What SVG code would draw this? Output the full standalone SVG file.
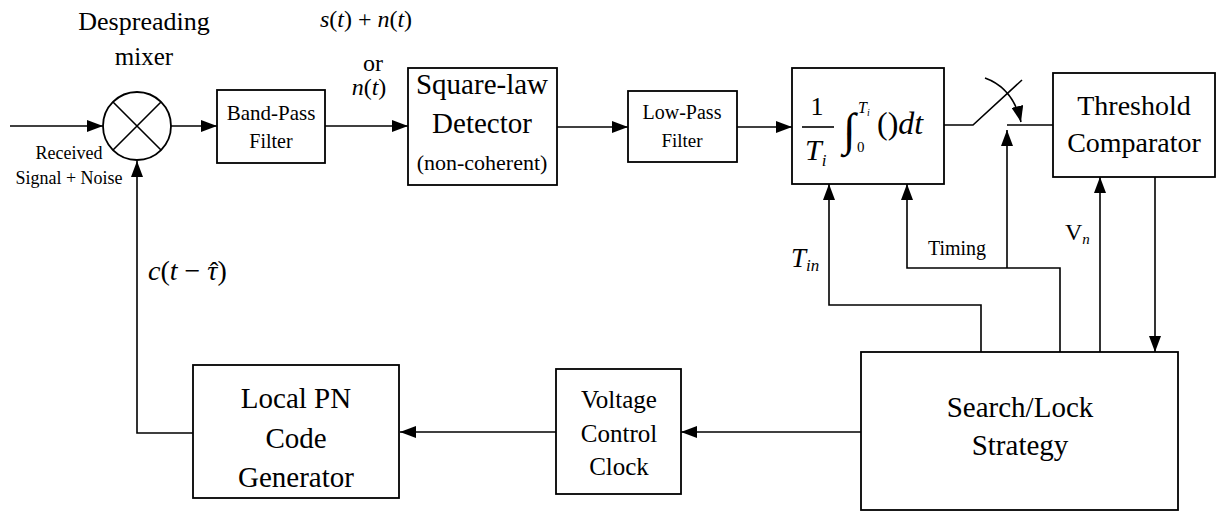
<svg xmlns="http://www.w3.org/2000/svg" width="1220" height="512" viewBox="0 0 1220 512">
<defs>
<marker id="ah" viewBox="0 0 16 12" refX="16" refY="6" markerWidth="16" markerHeight="12" orient="auto" markerUnits="userSpaceOnUse"><path d="M0,0 L16,6 L0,12 z" fill="#000"/></marker>
</defs>
<style>
.box{fill:#fff;stroke:#000;stroke-width:1.8}
.ln{fill:none;stroke:#000;stroke-width:1.6}
.ar{fill:none;stroke:#000;stroke-width:1.6;marker-end:url(#ah)}
.t{font-family:'Liberation Serif','DejaVu Serif',serif;fill:#000}
.c{text-anchor:middle}
.i{font-style:italic}
</style>
<rect width="1220" height="512" fill="#fff"/>
<g id="connectors">
<path class="ar" d="M10,126 H103"/>
<path class="ar" d="M171,126 H217"/>
<path class="ar" d="M325,126 H408"/>
<path class="ar" d="M557,127 H628"/>
<path class="ar" d="M737,127 H792"/>
<path class="ln" d="M944,125 H973 L1022,80"/>
<path class="ar" d="M985,78 Q1013,88 1021,122"/>
<path class="ln" d="M1007,125 H1053"/>
<path class="ar" d="M981,352 V305 H829 V184"/>
<path class="ar" d="M1060,352 V268 H907 V184"/>
<path class="ar" d="M1007,268 V130"/>
<path class="ar" d="M1100,352 V177"/>
<path class="ar" d="M1155,177 V352"/>
<path class="ar" d="M861,432 H681"/>
<path class="ar" d="M556,432 H400"/>
<path class="ar" d="M193,433 H137 V161"/>
</g>
<g id="mixer">
<circle cx="137" cy="126" r="34" fill="#fff" stroke="#000" stroke-width="1.8"/>
<path class="ln" d="M113,102 L161,150 M161,102 L113,150"/>
</g>
<g id="bpf">
<rect class="box" x="217" y="90" width="108" height="73"/>
<text class="t c" x="271" y="120" font-size="21">Band-Pass</text>
<text class="t c" x="271" y="148" font-size="20">Filter</text>
</g>
<g id="sqlaw">
<rect class="box" x="408" y="68" width="149" height="117"/>
<text class="t c" x="482" y="94" font-size="29">Square-law</text>
<text class="t c" x="482" y="133" font-size="29">Detector</text>
<text class="t c" x="482" y="170" font-size="22">(non-coherent)</text>
</g>
<g id="lpf">
<rect class="box" x="628" y="91" width="109" height="71"/>
<text class="t c" x="682" y="119" font-size="20">Low-Pass</text>
<text class="t c" x="682" y="147" font-size="19">Filter</text>
</g>
<g id="integrator">
<rect class="box" x="792" y="68" width="152" height="116"/>
<text class="t c" x="817" y="115" font-size="26">1</text>
<path class="ln" d="M802,127 H834"/>
<text class="t i" x="805" y="160" font-size="30">T<tspan font-size="17" dy="6">i</tspan></text>
<text class="t" x="843" y="145" font-size="46">∫</text>
<text class="t i" x="858" y="113" font-size="16">T<tspan font-size="10" dy="3">i</tspan></text>
<text class="t" x="857" y="152" font-size="15">0</text>
<text class="t" x="877" y="134" font-size="32">()<tspan class="i">dt</tspan></text>
</g>
<g id="threshold">
<rect class="box" x="1053" y="73" width="162" height="104"/>
<text class="t c" x="1134" y="115" font-size="28">Threshold</text>
<text class="t c" x="1134" y="152" font-size="28">Comparator</text>
</g>
<g id="search">
<rect class="box" x="861" y="352" width="317" height="158"/>
<text class="t c" x="1020" y="417" font-size="29">Search/Lock</text>
<text class="t c" x="1020" y="455" font-size="29">Strategy</text>
</g>
<g id="vcc">
<rect class="box" x="556" y="369" width="125" height="125"/>
<text class="t c" x="619" y="408" font-size="25">Voltage</text>
<text class="t c" x="619" y="442" font-size="25">Control</text>
<text class="t c" x="619" y="475" font-size="25">Clock</text>
</g>
<g id="pngen">
<rect class="box" x="193" y="365" width="206" height="133"/>
<text class="t c" x="296" y="408" font-size="29">Local PN</text>
<text class="t c" x="296" y="448" font-size="29">Code</text>
<text class="t c" x="296" y="487" font-size="29">Generator</text>
</g>
<g id="labels">
<text class="t c" x="144" y="30" font-size="26">Despreading</text>
<text class="t c" x="144" y="65" font-size="25">mixer</text>
<text class="t c" x="69" y="159" font-size="18">Received</text>
<text class="t c" x="69" y="184" font-size="18">Signal + Noise</text>
<text class="t c" x="366" y="27" font-size="24"><tspan class="i">s</tspan>(<tspan class="i">t</tspan>) + <tspan class="i">n</tspan>(<tspan class="i">t</tspan>)</text>
<text class="t c" x="373" y="71" font-size="24">or</text>
<text class="t c" x="369" y="95" font-size="24"><tspan class="i">n</tspan>(<tspan class="i">t</tspan>)</text>
<text class="t" x="148" y="280" font-size="28"><tspan class="i">c</tspan>(<tspan class="i">t</tspan> − <tspan class="i">τ</tspan>)</text>
<text class="t c" x="214" y="280" font-size="26">ˆ</text>
<text class="t i" x="791" y="267" font-size="27">T<tspan font-size="17" dy="4">in</tspan></text>
<text class="t c" x="957" y="255" font-size="20">Timing</text>
<text class="t" x="1065" y="240" font-size="24">V<tspan class="i" font-size="15" dy="4">n</tspan></text>
</g>
</svg>
